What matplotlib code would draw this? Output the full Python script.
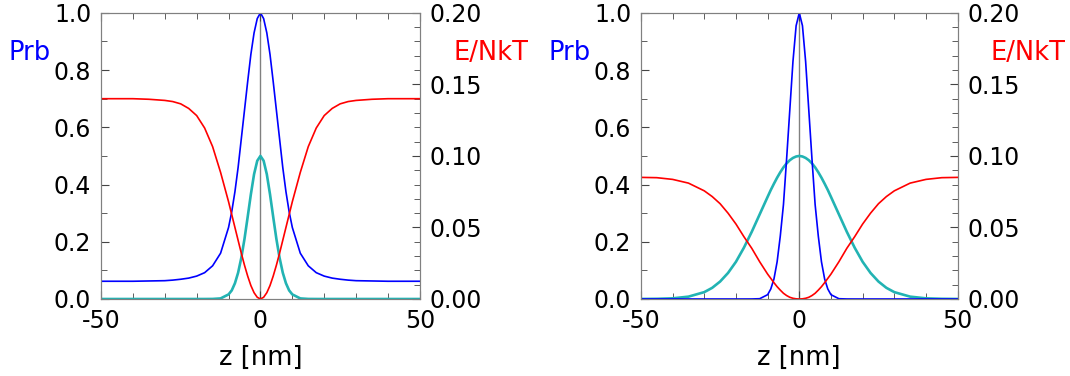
import numpy as np
import matplotlib
matplotlib.use("Agg")
import matplotlib.pyplot as plt
from matplotlib.ticker import MultipleLocator

# z grid [nm]
z = [-50, -45, -40, -35, -30, -27.5, -25, -22.5, -20, -17.5, -15, -12.5, -10,
     -9, -8, -7, -6, -5, -4, -3, -2, -1, 0,
     1, 2, 3, 4, 5, 6, 7, 8, 9, 10,
     12.5, 15, 17.5, 20, 22.5, 25, 27.5, 30, 35, 40, 45, 50]

# left panel
prb_a = [0.062, 0.062, 0.062, 0.063, 0.064, 0.066, 0.069, 0.073, 0.080, 0.092, 0.116, 0.160, 0.250,
         0.305, 0.375, 0.460, 0.560, 0.660, 0.760, 0.855, 0.930, 0.980, 1.000,
         0.980, 0.930, 0.855, 0.760, 0.660, 0.560, 0.460, 0.375, 0.305, 0.250,
         0.160, 0.116, 0.092, 0.080, 0.073, 0.069, 0.066, 0.064, 0.063, 0.062, 0.062, 0.062]
ene_a = [0.140, 0.140, 0.140, 0.1396, 0.1388, 0.138, 0.1364, 0.1332, 0.1282, 0.1195, 0.1065, 0.0885, 0.068,
         0.059, 0.050, 0.041, 0.032, 0.0236, 0.016, 0.0094, 0.0044, 0.0012, 0.0,
         0.0012, 0.0044, 0.0094, 0.016, 0.0236, 0.032, 0.041, 0.050, 0.059, 0.068,
         0.0885, 0.1065, 0.1195, 0.1282, 0.1332, 0.1364, 0.138, 0.1388, 0.1396, 0.140, 0.140, 0.140]
cyn_a = [0.0, 0.0, 0.0, 0.0, 0.0, 0.0, 0.0, 0.0, 0.0, 0.0, 0.0002, 0.002, 0.016,
         0.030, 0.055, 0.092, 0.144, 0.210, 0.287, 0.366, 0.436, 0.483, 0.500,
         0.483, 0.436, 0.366, 0.287, 0.210, 0.144, 0.092, 0.055, 0.030, 0.016,
         0.002, 0.0002, 0.0, 0.0, 0.0, 0.0, 0.0, 0.0, 0.0, 0.0, 0.0, 0.0]

# right panel
prb_b = [0.0, 0.0, 0.0, 0.0, 0.0, 0.0, 0.0, 0.0, 0.0, 0.0, 0.0001, 0.001, 0.015,
         0.035, 0.070, 0.130, 0.220, 0.330, 0.490, 0.660, 0.830, 0.955, 1.000,
         0.955, 0.830, 0.660, 0.490, 0.330, 0.220, 0.130, 0.070, 0.035, 0.015,
         0.001, 0.0001, 0.0, 0.0, 0.0, 0.0, 0.0, 0.0, 0.0, 0.0, 0.0, 0.0]
ene_b = [0.085, 0.0848, 0.0836, 0.081, 0.0756, 0.0716, 0.0666, 0.060, 0.0524, 0.0436, 0.0354, 0.026, 0.0174,
         0.0144, 0.0114, 0.0086, 0.0062, 0.004, 0.0024, 0.0012, 0.0005, 0.00012, 0.0,
         0.00012, 0.0005, 0.0012, 0.0024, 0.004, 0.0062, 0.0086, 0.0114, 0.0144, 0.0174,
         0.026, 0.0354, 0.0436, 0.0524, 0.060, 0.0666, 0.0716, 0.0756, 0.081, 0.0836, 0.0848, 0.085]
cyn_b = [0.0001, 0.0006, 0.0023, 0.0082, 0.024, 0.039, 0.061, 0.091, 0.130, 0.179, 0.235, 0.296, 0.357,
         0.381, 0.403, 0.424, 0.443, 0.460, 0.474, 0.485, 0.493, 0.498, 0.500,
         0.498, 0.493, 0.485, 0.474, 0.460, 0.443, 0.424, 0.403, 0.381, 0.357,
         0.296, 0.235, 0.179, 0.130, 0.091, 0.061, 0.039, 0.024, 0.0082, 0.0023, 0.0006, 0.0001]

plt.rcParams['font.family'] = 'DejaVu Sans'
SPINE = '#808080'
CYAN = '#22b3b3'

fig = plt.figure(figsize=(10.7, 3.76), dpi=100)
boxes = [[0.0944, 0.2048, 0.298, 0.761], [0.599, 0.2048, 0.296, 0.761]]
panels = [(prb_a, ene_a, cyn_a), (prb_b, ene_b, cyn_b)]

for box, (prb, ene, cyn) in zip(boxes, panels):
    ax = fig.add_axes(box)
    ax2 = ax.twinx()

    ax.axvline(0, color=SPINE, lw=1.0, zorder=1)
    ax.plot(z, cyn, color=CYAN, lw=1.9, zorder=2)
    ax.plot(z, prb, color='#0000ff', lw=1.2, zorder=3)
    ax2.plot(z, ene, color='#ff0000', lw=1.2)

    ax.set_xlim(-50, 50)
    ax.set_ylim(0, 1)
    ax2.set_ylim(0, 0.2)

    ax.xaxis.set_major_locator(MultipleLocator(50))
    ax.xaxis.set_minor_locator(MultipleLocator(10))
    ax.yaxis.set_major_locator(MultipleLocator(0.2))
    ax.yaxis.set_minor_locator(MultipleLocator(0.1))
    ax2.yaxis.set_major_locator(MultipleLocator(0.05))
    ax2.yaxis.set_minor_locator(MultipleLocator(0.01))
    ax.xaxis.set_major_formatter(lambda v, p: f"{v:.0f}")
    ax.yaxis.set_major_formatter(lambda v, p: f"{v:.1f}")
    ax2.yaxis.set_major_formatter(lambda v, p: f"{v:.2f}")

    ax.tick_params(axis='x', which='both', direction='in', top=True, labelsize=17, pad=7)
    ax.tick_params(axis='y', which='both', direction='in', labelsize=17, pad=7)
    ax2.tick_params(axis='y', which='both', direction='in', labelsize=17, pad=7)
    for a in (ax, ax2):
        a.tick_params(which='major', length=6, color='#444444')
        a.tick_params(which='minor', length=4, color='#444444')
        for s in a.spines.values():
            s.set_color(SPINE)

    ax.set_xlabel('z [nm]', fontsize=18.5, labelpad=9)
    ax.text(-0.225, 0.86, 'Prb', color='#0000ff', fontsize=18.5, transform=ax.transAxes,
            ha='center', va='center')
    ax.text(1.222, 0.86, 'E/NkT', color='#ff0000', fontsize=18.5, transform=ax.transAxes,
            ha='center', va='center')

fig.savefig('out.png', dpi=100)
